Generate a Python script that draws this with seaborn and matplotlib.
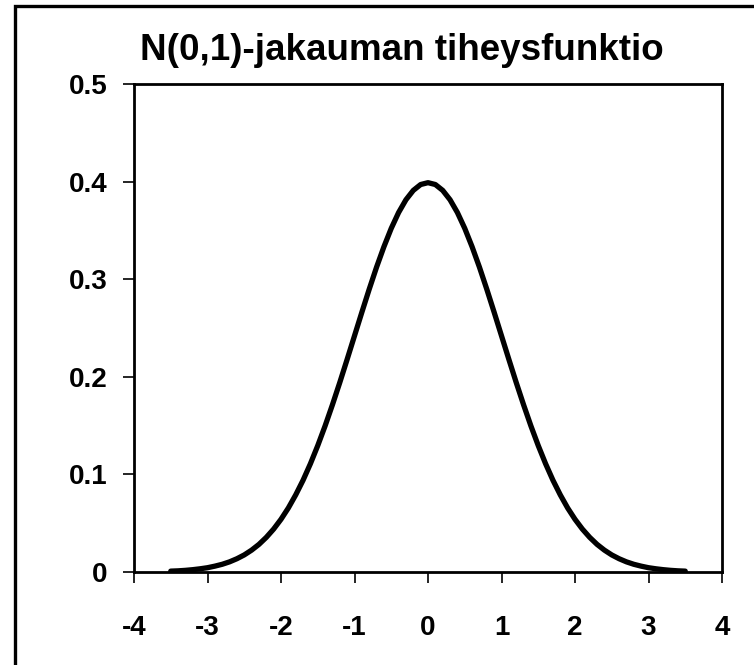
import matplotlib
matplotlib.use("Agg")
import matplotlib.pyplot as plt
import matplotlib.patches as mpatches
import seaborn as sns
import pandas as pd

x_values = [-3.5, -3.4, -3.3, -3.2, -3.1, -3.0, -2.9, -2.8, -2.7, -2.6, -2.5, -2.4, -2.3, -2.2, -2.1,
            -2.0, -1.9, -1.8, -1.7, -1.6, -1.5, -1.4, -1.3, -1.2, -1.1, -1.0, -0.9, -0.8, -0.7, -0.6,
            -0.5, -0.4, -0.3, -0.2, -0.1, 0.0, 0.1, 0.2, 0.3, 0.4, 0.5, 0.6, 0.7, 0.8, 0.9, 1.0, 1.1,
            1.2, 1.3, 1.4, 1.5, 1.6, 1.7, 1.8, 1.9, 2.0, 2.1, 2.2, 2.3, 2.4, 2.5, 2.6, 2.7, 2.8, 2.9,
            3.0, 3.1, 3.2, 3.3, 3.4, 3.5]
density = [0.0009, 0.0012, 0.0017, 0.0024, 0.0033, 0.0044, 0.0060, 0.0079, 0.0104, 0.0136, 0.0175,
           0.0224, 0.0283, 0.0355, 0.0440, 0.0540, 0.0656, 0.0790, 0.0940, 0.1109, 0.1295, 0.1497,
           0.1714, 0.1942, 0.2179, 0.2420, 0.2661, 0.2897, 0.3123, 0.3332, 0.3521, 0.3683, 0.3814,
           0.3910, 0.3970, 0.3989, 0.3970, 0.3910, 0.3814, 0.3683, 0.3521, 0.3332, 0.3123, 0.2897,
           0.2661, 0.2420, 0.2179, 0.1942, 0.1714, 0.1497, 0.1295, 0.1109, 0.0940, 0.0790, 0.0656,
           0.0540, 0.0440, 0.0355, 0.0283, 0.0224, 0.0175, 0.0136, 0.0104, 0.0079, 0.0060, 0.0044,
           0.0033, 0.0024, 0.0017, 0.0012, 0.0009]
x_ticks = [-4, -3, -2, -1, 0, 1, 2, 3, 4]
x_tick_labels = ["-4", "-3", "-2", "-1", "0", "1", "2", "3", "4"]
y_ticks = [0, 0.1, 0.2, 0.3, 0.4, 0.5]
y_tick_labels = ["0", "0.1", "0.2", "0.3", "0.4", "0.5"]
title = "N(0,1)-jakauman tiheysfunktio"

sns.set_style("white")
plt.rcParams["font.family"] = ["Liberation Sans", "DejaVu Sans"]
plt.rcParams["font.weight"] = "bold"
plt.rcParams["text.color"] = "black"
plt.rcParams["xtick.color"] = "black"
plt.rcParams["ytick.color"] = "black"
plt.rcParams["xtick.labelcolor"] = "black"
plt.rcParams["ytick.labelcolor"] = "black"

W, H = 754, 665
fig = plt.figure(figsize=(W / 100, H / 100), dpi=100)
fig.patch.set_facecolor("white")

# outer frame (extends past right and bottom edges)
frame = mpatches.Rectangle((15 / W, -0.1), 1.2, 1.1 - 6 / H, transform=fig.transFigure,
                           fill=False, edgecolor="black", linewidth=2.4, zorder=0)
fig.patches.append(frame)

left, right, top, bottom = 134, 722, 84, 572
ax = fig.add_axes([left / W, 1 - bottom / H, (right - left) / W, (bottom - top) / H])
ax.set_facecolor("white")

df = pd.DataFrame({"x": x_values, "y": density})
sns.lineplot(data=df, x="x", y="y", ax=ax, color="black", linewidth=3.8, legend=False)

ax.set_xlim(-4, 4)
ax.set_ylim(0, 0.5)
ax.set_xticks(x_ticks)
ax.set_xticklabels(x_tick_labels, fontsize=20, fontweight="bold", color="black")
ax.set_yticks(y_ticks)
ax.set_yticklabels(y_tick_labels, fontsize=20, fontweight="bold", color="black")
ax.set_xlabel("")
ax.set_ylabel("")
for s in ax.spines.values():
    s.set_visible(True)
    s.set_color("black")
    s.set_linewidth(2.0)
ax.tick_params(axis="both", direction="out", length=8, width=1.2, color="black",
               bottom=True, left=True, top=False, right=False)
ax.tick_params(axis="x", pad=23)
ax.tick_params(axis="y", pad=11)

fig.text(402 / W, 1 - 60 / H, title, ha="center", va="baseline", fontsize=26.5,
         fontweight="bold", color="black")

fig.savefig("out.png", dpi=100, facecolor="white")
